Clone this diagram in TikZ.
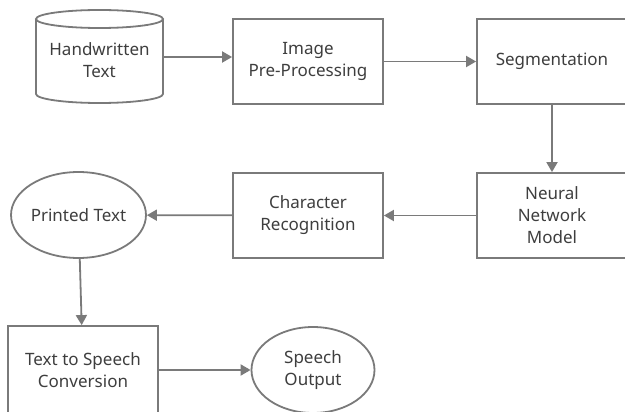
\documentclass[tikz,border=0pt]{standalone}
\usepackage{fontspec}
\setmainfont{Noto Sans}
\usetikzlibrary{arrows.meta,shapes.geometric}
\definecolor{edge}{HTML}{7A7A7A}
\definecolor{ink}{HTML}{3E3E3E}
\tikzset{
  every node/.style={font=\fontsize{17}{22}\selectfont, text=ink, align=center, inner sep=0pt},
  stepbox/.style={draw=edge, line width=1.8pt, rectangle, minimum width=150pt, minimum height=85pt},
  oval/.style={draw=edge, line width=1.8pt, ellipse, minimum width=123pt, minimum height=86pt},
  flow/.style={draw=edge, line width=1.8pt, -{Triangle[length=10pt,width=11pt]}},
}
\begin{document}
\begin{tikzpicture}[x=1pt,y=-1pt]
  \useasboundingbox (0,0) rectangle (625,412);
  \fill[white] (0,0) rectangle (625,412);

  % storage cylinder for the handwritten input
  \draw[edge, line width=1.8pt] (99.5,19) ellipse [x radius=63.5, y radius=9];
  \draw[edge, line width=1.8pt] (36,19) -- (36,94) arc [start angle=180, end angle=0, x radius=63.5, y radius=9] -- (163,19);
  \node (hw) [minimum width=127pt, minimum height=76pt] at (99.5,60) {Handwritten\\Text};

  \node (pre) [stepbox] at (308,61.5) {Image\\Pre-Processing};
  \node (seg) [stepbox] at (552,61.5) {Segmentation};
  \node (nn)  [stepbox] at (552,215.5) {Neural\\Network\\Model};
  \node (cr)  [stepbox] at (308,215.5) {Character\\Recognition};
  \node (pt)  [oval] at (78.5,215) {Printed Text};
  \node (tts) [stepbox, minimum height=88pt] at (83,370) {Text to Speech\\Conversion};
  \node (so)  [oval] at (313,370) {Speech\\Output};

  \draw[flow] (hw.east |- 0,57) -- (pre.west |- 0,57);
  \draw[flow] (pre) -- (seg);
  \draw[flow] (seg) -- (nn);
  \draw[flow] (nn) -- (cr);
  \draw[flow] (cr) -- (pt);
  \draw[flow] (pt) -- (tts);
  \draw[flow] (tts) -- (so);
\end{tikzpicture}
\end{document}
